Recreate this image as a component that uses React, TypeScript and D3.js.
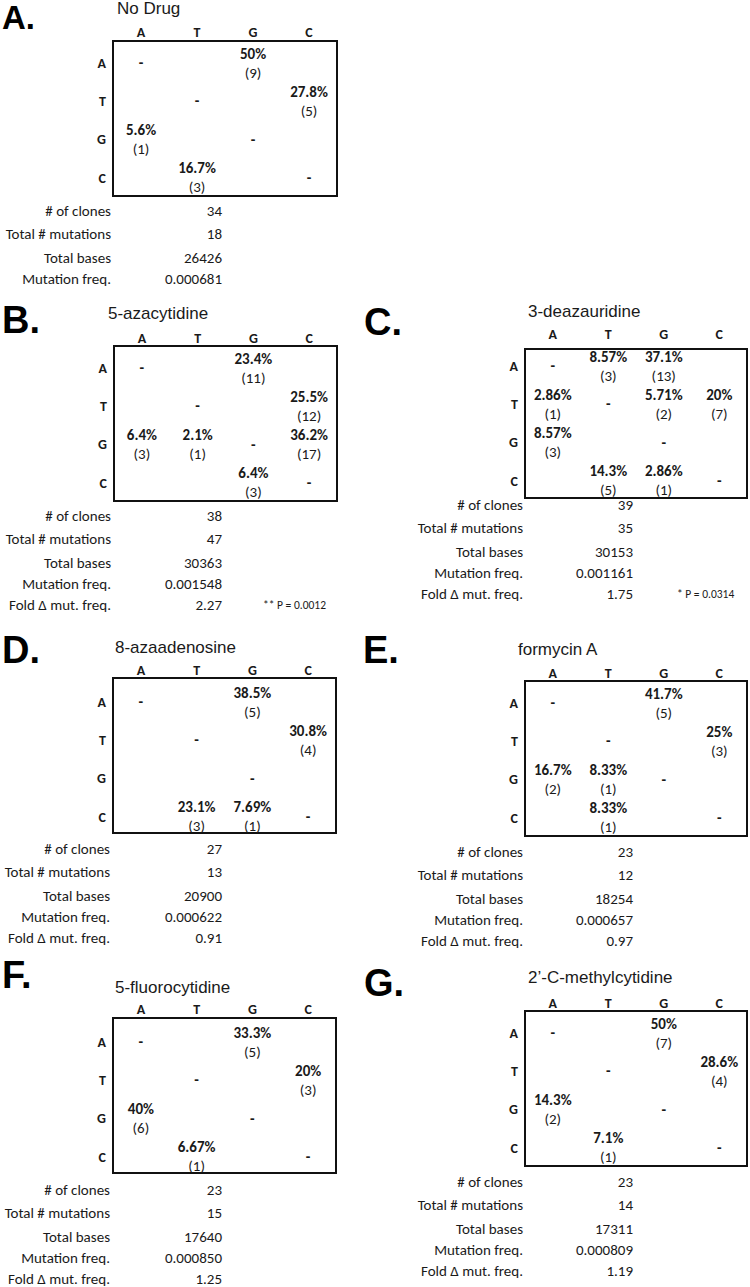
import React from "react";
import * as d3 from "d3";

// ---------- DATA ----------
const bases = ["A", "T", "G", "C"];
const panelLetters = ["A.", "B.", "C.", "D.", "E.", "F.", "G."];
const drugNames = [
  "No Drug",
  "5-azacytidine",
  "3-deazauridine",
  "8-azaadenosine",
  "formycin A",
  "5-fluorocytidine",
  "2\u2019-C-methylcytidine",
];

// [from (row), to (column), percent, count]
type Cell = [string, string, string, number];
const cellsNoDrug: Cell[] = [
  ["A", "G", "50%", 9],
  ["T", "C", "27.8%", 5],
  ["G", "A", "5.6%", 1],
  ["C", "T", "16.7%", 3],
];
const cellsAzacytidine: Cell[] = [
  ["A", "G", "23.4%", 11],
  ["T", "C", "25.5%", 12],
  ["G", "A", "6.4%", 3],
  ["G", "T", "2.1%", 1],
  ["G", "C", "36.2%", 17],
  ["C", "G", "6.4%", 3],
];
const cellsDeazauridine: Cell[] = [
  ["A", "T", "8.57%", 3],
  ["A", "G", "37.1%", 13],
  ["T", "A", "2.86%", 1],
  ["T", "G", "5.71%", 2],
  ["T", "C", "20%", 7],
  ["G", "A", "8.57%", 3],
  ["C", "T", "14.3%", 5],
  ["C", "G", "2.86%", 1],
];
const cellsAzaadenosine: Cell[] = [
  ["A", "G", "38.5%", 5],
  ["T", "C", "30.8%", 4],
  ["C", "T", "23.1%", 3],
  ["C", "G", "7.69%", 1],
];
const cellsFormycin: Cell[] = [
  ["A", "G", "41.7%", 5],
  ["T", "C", "25%", 3],
  ["G", "A", "16.7%", 2],
  ["G", "T", "8.33%", 1],
  ["C", "T", "8.33%", 1],
];
const cellsFluorocytidine: Cell[] = [
  ["A", "G", "33.3%", 5],
  ["T", "C", "20%", 3],
  ["G", "A", "40%", 6],
  ["C", "T", "6.67%", 1],
];
const cellsMethylcytidine: Cell[] = [
  ["A", "G", "50%", 7],
  ["T", "C", "28.6%", 4],
  ["G", "A", "14.3%", 2],
  ["C", "T", "7.1%", 1],
];
const panelCells = [
  cellsNoDrug,
  cellsAzacytidine,
  cellsDeazauridine,
  cellsAzaadenosine,
  cellsFormycin,
  cellsFluorocytidine,
  cellsMethylcytidine,
];

const statLabels = [
  "# of clones",
  "Total # mutations",
  "Total bases",
  "Mutation freq.",
  "Fold \u0394 mut. freq.",
];
const clones = ["34", "38", "39", "27", "23", "23", "23"];
const totalMutations = ["18", "47", "35", "13", "12", "15", "14"];
const totalBases = ["26426", "30363", "30153", "20900", "18254", "17640", "17311"];
const mutationFreq = ["0.000681", "0.001548", "0.001161", "0.000622", "0.000657", "0.000850", "0.000809"];
const foldChange = [null, "2.27", "1.75", "0.91", "0.97", "1.25", "1.19"];
const pValues = [null, "** P = 0.0012", "* P = 0.0314", null, null, null, null];

// ---------- LAYOUT ----------
type Layout = {
  lx: number; ly: number; ls: number; // panel letter
  tx: number; ty: number; // title
  bx0: number; by0: number; bx1: number; by1: number; // box
  hy: number; // column header baseline
  ry0: number; // first row center
  sy0: number; // first stat center
  slx: number; svx: number; px: number;
};
const layouts: Layout[] = [
  { lx: 2, ly: 29, ls: 33, tx: 117, ty: 14, bx0: 113, by0: 41, bx1: 337, by1: 196, hy: 37, ry0: 63, sy0: 211, slx: 111, svx: 222, px: 263 },
  { lx: 2, ly: 333, ls: 38, tx: 108, ty: 319, bx0: 114, by0: 346, bx1: 337, by1: 501, hy: 343, ry0: 368, sy0: 516, slx: 111, svx: 222, px: 263 },
  { lx: 364, ly: 335, ls: 38, tx: 528, ty: 317, bx0: 525, by0: 349, bx1: 747, by1: 498, hy: 339, ry0: 366, sy0: 505, slx: 523, svx: 633, px: 677 },
  { lx: 2, ly: 663, ls: 38, tx: 115, ty: 653, bx0: 113, by0: 678, bx1: 336, by1: 833, hy: 675, ry0: 702, sy0: 849, slx: 110, svx: 222, px: 263 },
  { lx: 363, ly: 663, ls: 38, tx: 518, ty: 655, bx0: 525, by0: 681, bx1: 747, by1: 836, hy: 678, ry0: 703, sy0: 852, slx: 523, svx: 633, px: 677 },
  { lx: 2, ly: 988, ls: 38, tx: 115, ty: 993, bx0: 113, by0: 1018, bx1: 336, by1: 1173, hy: 1014, ry0: 1042, sy0: 1190, slx: 110, svx: 222, px: 263 },
  { lx: 364, ly: 996, ls: 38, tx: 528, ty: 983, bx0: 525, by0: 1011, bx1: 747, by1: 1166, hy: 1008, ry0: 1033, sy0: 1182, slx: 523, svx: 633, px: 677 },
];
const statOffsets = [0, 23, 47, 68, 89];
const ROW_STEP = 38.2;
const TABLE_FONT = "Carlito, Lato, 'Open Sans', sans-serif";
const HEAD_FONT = "Arial, 'Liberation Sans', Helvetica, sans-serif";
const INK = "#1a1a1a";
const FS = 15;

function Panel({ i }: { i: number }) {
  const L = layouts[i];
  const x = d3.scaleBand<string>().domain(bases).range([L.bx0, L.bx1]).paddingInner(0).paddingOuter(0);
  const yTop = L.ry0 - ROW_STEP / 2;
  const y = d3.scaleBand<string>().domain(bases).range([yTop, yTop + ROW_STEP * 4]);
  const cx = (b: string) => (x(b) as number) + x.bandwidth() / 2;
  const cy = (b: string) => (y(b) as number) + y.bandwidth() / 2;
  const statValues = [clones[i], totalMutations[i], totalBases[i], mutationFreq[i], foldChange[i]];

  return (
    <g>
      <text x={L.lx} y={L.ly} fontFamily={HEAD_FONT} fontWeight="bold" fontSize={L.ls} fill="#000">
        {panelLetters[i]}
      </text>
      <text x={L.tx} y={L.ty} fontFamily={HEAD_FONT} fontSize={17} fill={INK}>
        {drugNames[i]}
      </text>
      {bases.map((b) => (
        <text key={"c" + b} x={cx(b)} y={L.hy} textAnchor="middle" fontFamily={TABLE_FONT} fontWeight="bold" fontSize={14} fill={INK}>
          {b}
        </text>
      ))}
      {bases.map((b) => (
        <text key={"r" + b} x={L.bx0 - 7} y={cy(b)} dy="0.35em" textAnchor="end" fontFamily={TABLE_FONT} fontWeight="bold" fontSize={14} fill={INK}>
          {b}
        </text>
      ))}
      <rect x={L.bx0} y={L.by0} width={L.bx1 - L.bx0} height={L.by1 - L.by0} fill="none" stroke="#111" strokeWidth={2} />
      {bases.map((b) => (
        <text key={"d" + b} x={cx(b)} y={cy(b)} dy="0.35em" textAnchor="middle" fontFamily={TABLE_FONT} fontWeight="bold" fontSize={FS} fill={INK}>
          -
        </text>
      ))}
      {panelCells[i].map(([from, to, pct, n]) => (
        <g key={from + to}>
          <text x={cx(to)} y={cy(from) - 9.5} dy="0.35em" textAnchor="middle" fontFamily={TABLE_FONT} fontWeight="bold" fontSize={FS} fill={INK}>
            {pct}
          </text>
          <text x={cx(to)} y={cy(from) + 9.5} dy="0.35em" textAnchor="middle" fontFamily={TABLE_FONT} fontSize={FS} fill={INK}>
            {"(" + n + ")"}
          </text>
        </g>
      ))}
      {statLabels.map((lab, k) =>
        statValues[k] == null ? null : (
          <g key={lab}>
            <text x={L.slx} y={L.sy0 + statOffsets[k]} dy="0.35em" textAnchor="end" fontFamily={TABLE_FONT} fontSize={FS} fill={INK}>
              {lab}
            </text>
            <text x={L.svx} y={L.sy0 + statOffsets[k]} dy="0.35em" textAnchor="end" fontFamily={TABLE_FONT} fontSize={FS} fill={INK}>
              {statValues[k]}
            </text>
          </g>
        )
      )}
      {pValues[i] && (
        <text x={L.px} y={L.sy0 + statOffsets[4]} dy="0.35em" fontFamily={TABLE_FONT} fontSize={11.5} fill={INK}>
          {pValues[i]}
        </text>
      )}
    </g>
  );
}

export default function App() {
  return (
    <svg
      width={750}
      height={1287}
      viewBox="0 0 750 1287"
      style={{ position: "absolute", left: 0, top: 0, background: "#fff" }}
    >
      <rect x={0} y={0} width={750} height={1287} fill="#fff" />
      {layouts.map((_, i) => (
        <Panel key={i} i={i} />
      ))}
    </svg>
  );
}
